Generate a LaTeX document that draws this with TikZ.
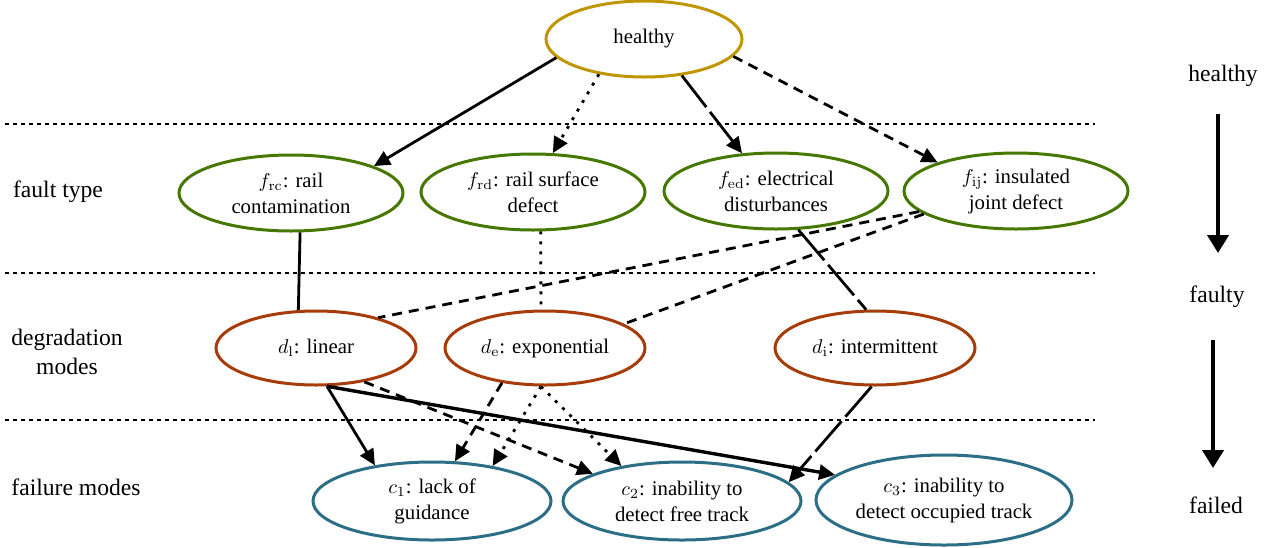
\documentclass[tikz,border=0pt]{standalone}
\usepackage[no-math]{fontspec}
\setmainfont{Liberation Serif}
\usetikzlibrary{shapes.geometric,arrows.meta}
\definecolor{cHealthy}{RGB}{191,150,0}
\definecolor{cFault}{RGB}{70,120,0}
\definecolor{cDeg}{RGB}{166,60,10}
\definecolor{cFail}{RGB}{45,110,135}
\tikzset{
  stnode/.style={ellipse, draw, line width=1.5pt, inner sep=0pt, align=center,
    font=\fontsize{10.4}{13}\selectfont},
  hnode/.style={stnode, draw=cHealthy, minimum width=98pt, minimum height=38pt},
  fnode/.style={stnode, draw=cFault, minimum width=112pt, minimum height=38pt},
  dnode/.style={stnode, draw=cDeg, minimum width=100pt, minimum height=37pt},
  cnode/.style={stnode, draw=cFail, minimum width=119pt, minimum height=39pt},
  sidelabel/.style={align=center, inner sep=0pt, font=\fontsize{11.8}{14.5}\selectfont},
  lnk/.style={line width=1.4pt},
  arr/.style={lnk, -{Triangle[length=8pt,width=7.5pt]}},
  sdash/.style={dash pattern=on 5pt off 3.5pt},
  sdot/.style={dash pattern=on 1.5pt off 3.5pt},
  slong/.style={dash pattern=on 20pt off 3pt},
  sepline/.style={line width=0.9pt, dash pattern=on 2pt off 2pt},
  bigarr/.style={line width=2pt, -{Triangle[length=9pt,width=10.5pt]}}
}
\begin{document}
\begin{tikzpicture}[x=0.5pt,y=-0.5pt]
\useasboundingbox (0,0) rectangle (1274,547);
% separator lines
\coordinate (s1a) at (5,124);  \coordinate (s1b) at (1095,124);
\coordinate (s2a) at (5,273);  \coordinate (s2b) at (1095,273);
\coordinate (s3a) at (5,420);  \coordinate (s3b) at (1095,420);
\draw[sepline] (s1a) -- (s1b);
\draw[sepline] (s2a) -- (s2b);
\draw[sepline] (s3a) -- (s3b);
% nodes
\node[hnode] (h) at (644,39) {healthy};
\node[fnode] (frc) at (291,193) {$f_{\mathrm{rc}}$: rail\\contamination};
\node[fnode] (frd) at (533,192) {$f_{\mathrm{rd}}$: rail surface\\defect};
\node[fnode] (fed) at (776,191) {$f_{\mathrm{ed}}$: electrical\\disturbances};
\node[fnode] (fij) at (1016,191) {$f_{\mathrm{ij}}$: insulated\\joint defect};
\node[dnode] (dl) at (316,348) {$d_{\mathrm{l}}$: linear};
\node[dnode] (de) at (545,348) {$d_{\mathrm{e}}$: exponential};
\node[dnode] (di) at (875,348) {$d_{\mathrm{i}}$: intermittent};
\node[cnode] (c1) at (432,501) {$c_1$: lack of\\guidance};
\node[cnode] (c2) at (682,501) {$c_2$: inability to\\detect free track};
\node[cnode, minimum width=128pt, minimum height=45pt] (c3) at (944,500) {$c_3$: inability to\\detect occupied track};
% side labels
\node[sidelabel] (lft) at (58,192) {fault type};
\node[sidelabel] (ldm) at (67,352) {degradation\\modes};
\node[sidelabel] (lfm) at (76,487) {failure modes};
\node[sidelabel] (rh) at (1223,76) {healthy};
\node[sidelabel] (rf) at (1217,297) {faulty};
\node[sidelabel] (rd) at (1216,505) {failed};
% side arrows
\coordinate (a1s) at (1218,114); \coordinate (a1e) at (1218,253);
\coordinate (a2s) at (1213,340); \coordinate (a2e) at (1213,468);
\draw[bigarr] (a1s) -- (a1e);
\draw[bigarr] (a2s) -- (a2e);
% healthy -> fault types
\draw[arr] (h.192) -- (frc.18);
\draw[arr,sdot] (h.218) -- (frd.63);
\draw[arr,slong] (h.316) -- (fed.132);
\draw[arr,sdash] (h.349) -- (fij.160);
% fault types -- degradation modes
\draw[lnk] (frc.283) -- (dl.115);
\draw[lnk,sdot] (frd.281) -- (de.96);
\draw[lnk,slong] (fed.300) -- (di.103);
\draw[lnk,sdash] (fij.192) -- (dl.26);
\draw[lnk,sdash] (fij.194) -- (de.17);
% degradation modes -> failure modes
\draw[arr] (dl.286) -- (c1.148);
\draw[arr,line width=1.7pt] (dl.286) -- (c3.167);
\draw[arr,sdash] (dl.325) -- (c2.163);
\draw[arr,sdash] (de.219) -- (c1.60);
\draw[arr,sdot] (de.264) -- (c1.30);
\draw[arr,sdot] (de.264) -- (c2.150);
\draw[arr,slong] (di.265) -- (c2.10);
\end{tikzpicture}
\end{document}
